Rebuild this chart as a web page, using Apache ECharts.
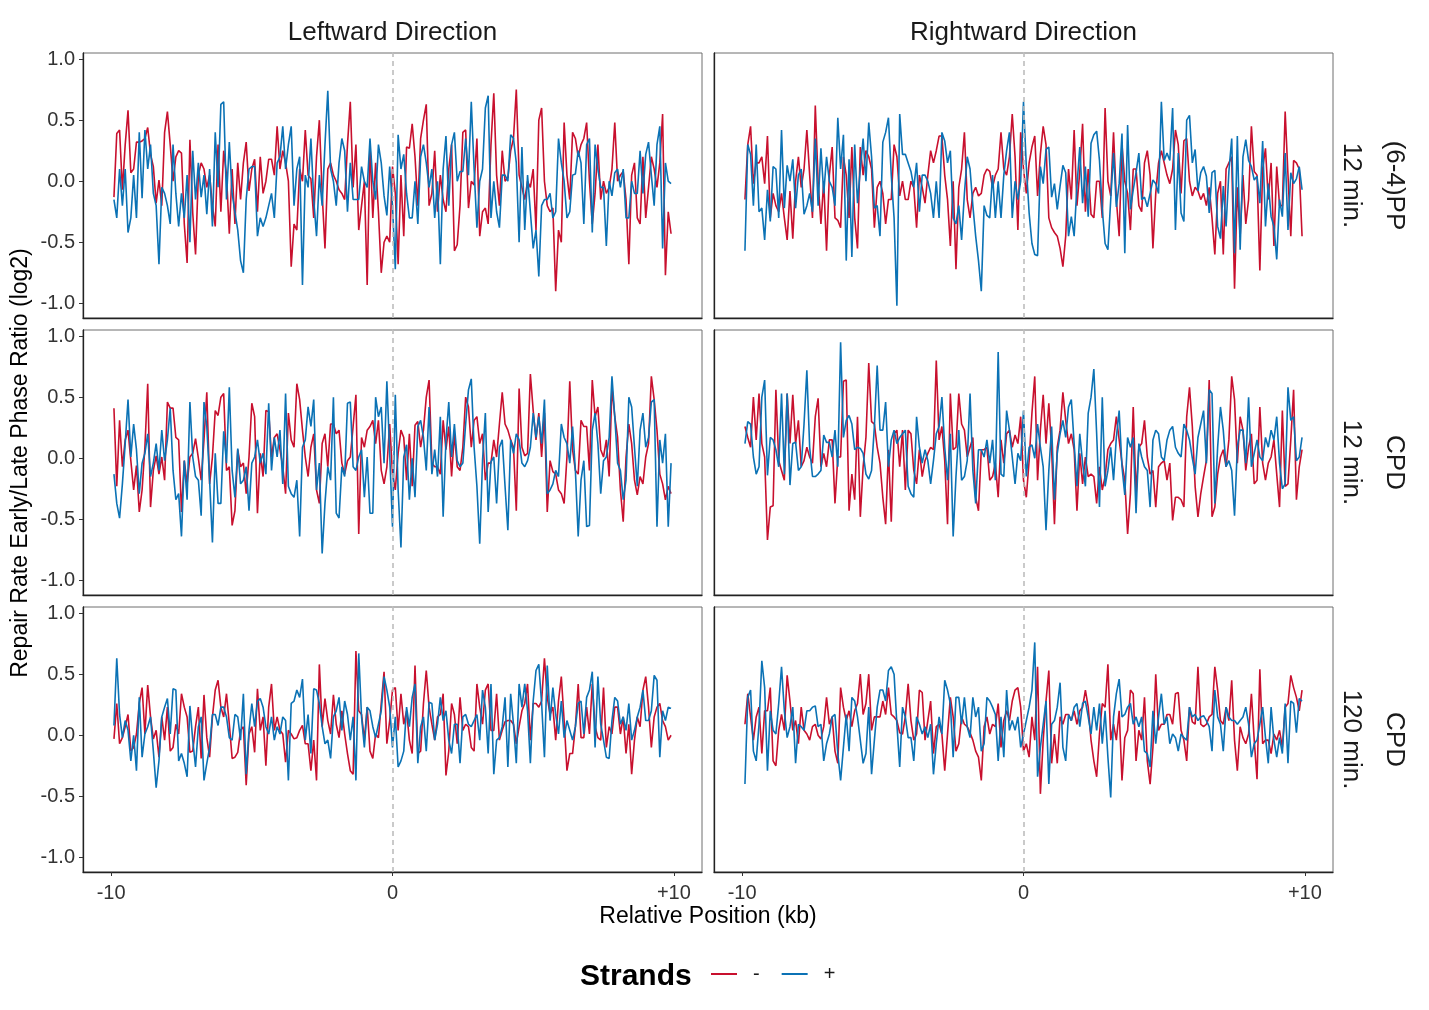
<!DOCTYPE html>
<html>
<head>
<meta charset="utf-8">
<script src="https://cdn.jsdelivr.net/npm/echarts@6/dist/echarts.min.js"></script>
<style>
  html, body { margin: 0; padding: 0; background: #fff; }
  #chart { width: 1429px; height: 1010px; }
</style>
</head>
<body>
<div id="chart"></div>
<script>
// facet labels, ticks, legend
const directions = ['Leftward Direction', 'Rightward Direction'];
const conditions = [['(6-4)PP', '12 min.'], ['CPD', '12 min.'], ['CPD', '120 min.']];
const strands = ['-', '+'];
const yTicks = [-1, -0.5, 0, 0.5, 1];
const xTicks = [-10, 0, 10];

// bin centres in kb (100 bp bins, -9.9 .. +9.9)
const positions = Array.from({ length: 199 }, (_, i) => +(-9.9 + i * 0.1).toFixed(1));

// log2 ratio per bin
const pp12LeftMinus = [
  -0.13, 0.39, 0.42, -0.07, 0.3, 0.58, 0.07, 0.1, 0.32, 0.32,
  0.33, 0.35, 0.44, 0.22, 0.12, -0.18, 0.01, -0.2, 0.4, 0.57,
  0.3, 0.0, 0.2, 0.25, 0.23, -0.35, -0.67, 0.34, -0.26, -0.6,
  0.05, 0.15, 0.1, -0.05, 0.05, -0.2, -0.37, 0.3, -0.25, 0.25,
  0.05, -0.43, 0.1, -0.35, 0.15, -0.15, 0.15, 0.32, -0.08, 0.1,
  0.18, -0.25, 0.2, -0.1, 0.0, 0.18, 0.18, 0.05, 0.45, 0.1,
  0.25, 0.15, 0.0, -0.7, -0.35, -0.4, 0.1, 0.0, 0.42, 0.05,
  0.02, -0.3, 0.2, 0.5, -0.1, -0.55, 0.1, 0.15, 0.05, 0.0,
  -0.07, -0.1, -0.15, 0.3, 0.65, -0.05, 0.3, -0.4, -0.2, 0.0,
  -0.85, 0.3, -0.3, 0.15, -0.25, -0.75, -0.5, -0.45, -0.5, 0.12,
  -0.1, -0.68, 0.05, -0.45, 0.28, 0.27, 0.47, 0.2, -0.2, 0.35,
  0.5, 0.63, -0.2, -0.1, 0.25, -0.25, 0.05, -0.15, -0.25, 0.1,
  0.3, -0.57, -0.52, -0.2, 0.4, 0.42, -0.22, 0.0, -0.03, 0.35,
  -0.45, -0.25, -0.22, -0.35, 0.3, 0.72, 0.05, -0.2, 0.25, 0.0,
  0.03, 0.25, 0.35, 0.75, 0.05, -0.05, -0.15, 0.0, -0.05, 0.1,
  -0.4, 0.5, 0.6, 0.0, -0.2, -0.25, -0.22, -0.9, -0.4, -0.5,
  0.48, 0.05, -0.15, 0.4, 0.35, 0.2, 0.3, 0.35, 0.48, 0.0,
  -0.35, -0.1, 0.3, -0.15, 0.0, -0.1, -0.05, 0.1, 0.48, 0.0,
  0.05, 0.08, -0.15, -0.68, 0.05, 0.15, -0.3, -0.35, 0.2, -0.3,
  -0.05, 0.2, 0.1, -0.05, 0.15, 0.55, -0.77, -0.25, -0.43
];
const pp12LeftPlus = [
  -0.15, -0.3, 0.1, -0.2, 0.1, -0.42, -0.3, 0.05, -0.3, 0.4,
  -0.14, 0.42, 0.1, 0.3, -0.1, -0.2, -0.68, -0.05, -0.1, -0.2,
  -0.35, 0.3, -0.1, -0.37, -0.1, -0.3, 0.05, -0.5, 0.25, -0.15,
  0.15, -0.13, 0.05, -0.27, 0.1, -0.37, 0.4, -0.05, 0.63, 0.65,
  -0.15, 0.32, -0.1, -0.25, -0.4, -0.65, -0.75, -0.15, 0.1, 0.12,
  0.12, -0.45, -0.3, -0.37, -0.3, -0.2, -0.1, -0.3, 0.15, 0.2,
  0.45, 0.1, 0.3, 0.45, -0.2, 0.1, 0.2, -0.85, 0.05, -0.05,
  0.35, -0.15, -0.45, 0.05, -0.2, 0.3, 0.74, 0.1, 0.0, -0.2,
  0.15, 0.35, 0.25, -0.25, 0.15, -0.15, -0.15, -0.15, 0.12, 0.0,
  -0.05, 0.35, 0.0, -0.15, 0.3, 0.15, -0.12, -0.28, 0.12, -0.2,
  -0.72, 0.38, 0.1, 0.22, -0.1, -0.3, -0.3, 0.0, -0.35, 0.2,
  0.3, 0.15, -0.05, 0.1, -0.3, 0.0, -0.68, 0.1, 0.37, -0.2,
  0.3, 0.4, 0.0, 0.08, 0.08, 0.35, 0.05, 0.65, 0.1, -0.38,
  0.0, 0.1, 0.6, 0.7, -0.3, 0.0, -0.25, -0.38, 0.05, 0.05,
  0.0, 0.38, 0.35, 0.15, -0.5, 0.28, -0.4, 0.05, -0.25, -0.55,
  -0.4, -0.78, -0.2, -0.15, -0.15, -0.1, -0.3, -0.25, 0.35, 0.15,
  0.0, -0.3, -0.25, 0.05, 0.06, 0.25, 0.15, -0.35, 0.3, 0.35,
  -0.42, 0.3, 0.1, -0.05, -0.05, -0.53, 0.0, -0.12, 0.07, 0.1,
  -0.05, 0.1, -0.3, -0.3, 0.0, -0.1, -0.1, 0.25, -0.1, 0.22,
  0.32, 0.05, -0.2, 0.3, 0.45, -0.55, 0.15, 0.0, -0.02
];
const pp12RightMinus = [
  -0.15, 0.3, 0.45, -0.02, 0.15, 0.15, 0.2, -0.02, 0.37, -0.3,
  -0.1, -0.2, -0.25, -0.1, -0.3, -0.48, -0.08, -0.47, 0.0, 0.2,
  -0.05, 0.1, 0.42, 0.05, -0.3, 0.62, 0.0, -0.35, 0.0, -0.57,
  0.05, 0.28, -0.3, -0.32, -0.38, 0.2, 0.05, -0.3, 0.28, -0.3,
  -0.55, 0.28, 0.05, 0.25, 0.2, 0.1, -0.38, -0.05, 0.0, -0.1,
  -0.35, -0.15, -0.15, 0.3, 0.2, -0.12, 0.0, -0.15, -0.15, 0.0,
  -0.05, -0.38, 0.05, -0.05, -0.18, 0.05, 0.25, 0.15, 0.25, 0.37,
  0.37, 0.05, -0.15, -0.53, 0.0, -0.72, -0.05, 0.1, 0.4, -0.15,
  -0.3, -0.1, -0.05, -0.12, -0.1, 0.05, 0.1, 0.08, -0.05, 0.05,
  0.1, 0.4, 0.1, 0.05, 0.2, 0.55, 0.2, -0.4, 0.4, 0.1,
  -0.1, 0.15, 0.28, 0.37, -0.12, 0.22, 0.45, 0.3, -0.3, -0.38,
  -0.42, -0.45, -0.55, -0.7, -0.45, 0.1, -0.15, 0.42, -0.2, 0.08,
  0.47, -0.25, 0.1, -0.27, -0.3, 0.0, 0.0, -0.3, 0.6, 0.0,
  -0.12, 0.4, -0.15, -0.45, 0.3, 0.0, -0.1, -0.4, 0.1, 0.1,
  -0.2, -0.25, 0.15, 0.25, 0.05, -0.55, -0.1, 0.15, 0.25, 0.15,
  0.05, -0.02, 0.1, 0.42, 0.3, -0.1, 0.33, 0.35, 0.0, -0.12,
  -0.05, -0.08, -0.15, -0.1, -0.2, -0.05, -0.3, -0.6, -0.1, 0.0,
  -0.6, 0.1, 0.15, 0.2, -0.88, -0.05, -0.45, 0.05, -0.35, -0.15,
  0.45, 0.08, 0.05, -0.73, 0.1, 0.27, -0.15, 0.15, -0.53, 0.12,
  -0.2, -0.2, 0.57, 0.05, -0.45, 0.17, 0.15, 0.1, -0.45
];
const pp12RightPlus = [
  -0.57, 0.3, 0.22, -0.2, 0.3, -0.25, -0.22, -0.48, -0.07, -0.33,
  0.12, 0.1, -0.3, 0.42, -0.22, 0.13, 0.0, 0.18, -0.22, 0.05,
  0.1, -0.27, -0.2, -0.1, -0.25, 0.35, -0.2, 0.27, -0.1, 0.2,
  0.0, -0.05, -0.2, 0.52, 0.1, 0.38, -0.65, 0.18, -0.62, 0.3,
  -0.18, 0.1, 0.35, 0.0, 0.48, 0.2, -0.22, -0.2, -0.45, 0.32,
  0.4, 0.52, 0.05, -0.3, -1.02, 0.55, 0.22, 0.22, 0.15, 0.08,
  -0.05, 0.15, -0.25, 0.05, 0.05, 0.0, -0.1, -0.3, 0.0, -0.3,
  0.4, 0.33, 0.15, 0.25, -0.3, -0.35, -0.2, -0.48, -0.1, 0.2,
  0.1, -0.2, -0.45, -0.65, -0.9, -0.2, -0.28, -0.3, 0.05, -0.3,
  0.0, -0.3, 0.05, 0.25, 0.4, -0.3, 0.0, -0.15, 0.0, 0.65,
  0.12, -0.26, -0.51, -0.6, -0.61, 0.12, -0.02, 0.26, 0.28, -0.13,
  -0.02, -0.23, -0.04, 0.13, 0.07, -0.45, -0.29, -0.45, -0.04, 0.28,
  -0.18, 0.12, -0.29, 0.31, 0.38, 0.41, 0.17, -0.23, -0.51, -0.56,
  -0.15, 0.23, -0.21, -0.02, 0.39, -0.59, 0.46, -0.23, -0.07, 0.07,
  0.23, -0.15, -0.13, -0.21, -0.1, 0.01, -0.02, -0.1, 0.65, 0.17,
  0.23, 0.17, 0.6, -0.4, 0.23, -0.26, -0.33, 0.5, 0.54, 0.15,
  0.26, -0.08, 0.07, 0.12, 0.04, -0.26, 0.07, 0.09, -0.37, -0.47,
  -0.04, -0.37, 0.08, 0.35, -0.59, 0.37, -0.56, 0.2, 0.34, 0.17,
  0.12, 0.01, 0.04, -0.18, 0.33, -0.37, -0.02, -0.29, -0.37, -0.64,
  -0.15, -0.29, 0.23, -0.4, 0.07, -0.02, 0.02, 0.12, -0.07
];
const cpd12LeftMinus = [
  0.41, -0.23, 0.31, -0.07, 0.15, 0.23, -0.02, -0.26, -0.06, -0.44,
  -0.26, 0.09, 0.61, -0.4, -0.1, 0.02, -0.13, 0.01, -0.18, 0.46,
  0.41, 0.41, 0.17, 0.15, -0.44, -0.02, -0.21, 0.01, 0.04, 0.16,
  0.0, -0.18, 0.15, 0.54, -0.21, 0.01, 0.39, 0.35, 0.5, 0.53,
  -0.1, -0.07, -0.55, -0.43, 0.07, -0.07, -0.04, -0.29, 0.01, 0.45,
  0.34, -0.45, 0.04, -0.15, 0.39, 0.38, 0.01, 0.17, 0.2, 0.07,
  -0.07, -0.29, 0.37, 0.15, 0.09, 0.61, 0.48, 0.23, 0.01, -0.15,
  0.09, 0.2, -0.26, -0.37, 0.12, 0.2, -0.07, 0.28, 0.28, 0.2,
  0.23, -0.04, -0.13, -0.02, 0.01, 0.26, 0.52, -0.62, 0.17, 0.09,
  0.23, 0.26, 0.31, 0.12, 0.31, -0.1, -0.21, -0.07, 0.28, -0.13,
  -0.26, 0.04, 0.23, 0.17, -0.18, 0.2, -0.23, 0.27, 0.3, 0.09,
  0.23, 0.5, 0.64, -0.04, -0.07, -0.07, -0.13, 0.31, 0.07, 0.26,
  -0.15, 0.2, -0.07, -0.1, 0.09, 0.5, 0.42, 0.09, 0.31, 0.34,
  0.12, 0.2, -0.18, -0.04, -0.04, 0.15, 0.01, 0.28, 0.54, 0.28,
  0.23, 0.15, 0.09, -0.43, 0.57, 0.09, 0.02, 0.04, 0.69, 0.39,
  0.15, 0.37, 0.01, 0.37, -0.44, -0.02, -0.11, -0.13, -0.26, -0.29,
  -0.37, 0.01, 0.63, 0.07, -0.1, -0.13, 0.31, 0.26, 0.26, -0.1,
  0.64, 0.34, 0.42, 0.07, 0.01, 0.15, -0.15, 0.58, 0.34, 0.17,
  -0.26, -0.52, 0.01, 0.28, 0.12, -0.18, -0.3, -0.15, -0.21, 0.01,
  0.12, 0.67, 0.48, 0.23, -0.13, -0.21, -0.34, -0.23, -0.29
];
const cpd12LeftPlus = [
  -0.13, -0.37, -0.49, -0.21, 0.12, 0.48, 0.01, 0.28, 0.07, -0.29,
  -0.04, 0.04, 0.2, -0.15, -0.04, 0.12, -0.1, 0.23, -0.02, 0.15,
  0.41, -0.1, -0.34, -0.29, -0.64, -0.02, -0.34, 0.46, 0.01, -0.15,
  -0.18, -0.47, 0.46, 0.26, -0.18, -0.69, 0.04, -0.37, -0.37, 0.22,
  -0.04, 0.58, -0.1, -0.32, 0.08, -0.21, -0.18, -0.07, -0.43, -0.04,
  0.01, 0.15, -0.04, 0.04, -0.13, 0.45, -0.1, 0.17, 0.01, 0.23,
  -0.21, 0.53, -0.23, -0.29, -0.32, -0.18, -0.64, 0.09, 0.15, 0.42,
  0.26, 0.48, -0.26, -0.04, -0.78, -0.37, -0.07, -0.18, 0.5, -0.45,
  -0.49, -0.07, -0.15, 0.45, 0.46, -0.07, -0.1, 0.01, 0.07, -0.32,
  0.01, -0.45, -0.45, 0.5, 0.34, 0.42, -0.04, 0.63, 0.04, -0.56,
  0.52, -0.26, -0.73, 0.01, 0.11, -0.34, 0.0, -0.32, 0.26, 0.31,
  0.17, -0.1, 0.42, -0.13, 0.07, -0.15, 0.34, -0.48, 0.15, 0.46,
  0.01, 0.28, -0.02, -0.07, -0.04, 0.28, 0.56, 0.65, 0.09, -0.23,
  -0.7, -0.02, 0.37, -0.44, -0.03, 0.01, -0.37, 0.09, 0.15, -0.23,
  -0.59, 0.15, 0.04, 0.2, 0.15, -0.04, -0.07, -0.02, 0.09, 0.37,
  0.17, 0.34, 0.12, 0.48, -0.29, -0.26, -0.21, -0.1, -0.15, 0.28,
  0.17, 0.12, -0.04, 0.26, -0.1, -0.64, -0.18, -0.02, -0.56, -0.55,
  0.23, 0.37, 0.12, -0.29, -0.02, 0.01, 0.17, 0.67, 0.34, -0.04,
  -0.1, -0.34, -0.18, 0.5, 0.42, 0.09, -0.23, 0.23, 0.37, 0.09,
  0.17, 0.46, 0.48, -0.56, 0.15, -0.04, 0.2, -0.56, -0.04
];
const cpd12RightMinus = [
  0.26, 0.17, 0.09, 0.5, 0.15, 0.53, 0.12, 0.01, -0.67, -0.4,
  -0.39, 0.56, -0.02, -0.1, -0.18, 0.53, 0.12, 0.52, 0.12, 0.31,
  -0.07, -0.02, 0.09, 0.01, -0.04, 0.34, 0.49, -0.07, 0.04, -0.07,
  0.15, 0.15, -0.37, 0.01, 0.01, 0.63, 0.64, -0.43, -0.13, -0.34,
  0.34, -0.48, -0.07, 0.17, 0.78, 0.3, 0.28, 0.09, -0.04, -0.32,
  -0.54, 0.07, -0.52, 0.2, 0.23, -0.07, 0.23, -0.26, 0.23, 0.2,
  -0.1, -0.21, 0.07, -0.15, -0.02, 0.04, 0.09, 0.07, 0.8, 0.15,
  0.26, -0.02, -0.54, 0.53, 0.07, 0.09, 0.53, 0.28, 0.23, 0.01,
  0.09, 0.17, -0.32, -0.43, 0.07, 0.07, 0.09, -0.18, -0.15, -0.04,
  -0.32, 0.15, -0.04, 0.2, 0.23, 0.09, 0.19, 0.12, 0.34, -0.18,
  -0.32, -0.02, 0.37, 0.67, -0.18, 0.23, 0.52, 0.12, 0.45, 0.07,
  -0.54, 0.09, 0.23, 0.54, 0.31, 0.12, 0.2, 0.07, -0.43, 0.04,
  -0.21, 0.01, -0.15, -0.13, -0.15, -0.37, -0.07, -0.26, -0.15, 0.07,
  0.12, 0.15, 0.34, 0.15, -0.04, -0.18, -0.62, -0.29, 0.42, -0.29,
  0.09, 0.12, 0.31, 0.01, -0.13, -0.1, -0.4, -0.07, -0.04, -0.02,
  -0.18, -0.04, -0.51, -0.32, -0.32, -0.34, -0.4, 0.34, 0.58, 0.26,
  -0.23, -0.48, -0.29, -0.15, -0.02, 0.64, -0.48, -0.4, -0.13, 0.01,
  0.07, -0.07, 0.15, 0.67, 0.48, -0.04, 0.34, 0.23, -0.1, 0.09,
  0.2, -0.21, -0.18, 0.42, -0.04, -0.18, -0.04, 0.01, 0.15, -0.13,
  -0.4, 0.39, -0.23, -0.21, 0.15, 0.56, -0.34, -0.07, 0.07
];
const cpd12RightPlus = [
  0.12, 0.3, 0.28, 0.01, -0.13, -0.07, 0.5, 0.64, -0.14, 0.17,
  0.15, 0.07, -0.07, 0.53, -0.13, 0.53, -0.22, 0.12, 0.13, -0.1,
  -0.07, 0.28, 0.72, 0.09, -0.15, -0.15, -0.13, -0.1, 0.19, 0.13,
  0.13, 0.01, 0.23, -0.07, 0.95, 0.17, 0.31, 0.35, 0.28, 0.07,
  0.09, 0.08, 0.04, -0.13, -0.17, -0.1, 0.26, 0.76, 0.23, 0.23,
  0.46, -0.07, 0.15, 0.23, 0.12, 0.17, 0.2, 0.23, -0.23, -0.29,
  -0.32, 0.34, 0.09, -0.04, 0.07, -0.02, -0.21, -0.02, 0.2, 0.26,
  0.5, 0.09, -0.18, 0.2, -0.64, -0.15, 0.23, -0.18, -0.15, -0.02,
  0.53, -0.1, -0.37, 0.07, 0.07, 0.01, 0.15, -0.04, 0.15, -0.18,
  0.87, -0.13, -0.15, 0.39, 0.23, 0.01, -0.21, 0.04, -0.02, 0.39,
  -0.15, 0.09, 0.11, 0.0, 0.28, 0.09, -0.07, -0.59, -0.1, 0.26,
  -0.34, 0.04, 0.2, 0.31, 0.17, 0.42, 0.48, 0.12, -0.23, 0.2,
  -0.04, -0.23, 0.37, 0.5, 0.73, 0.2, -0.4, 0.5, -0.23, -0.1,
  0.09, -0.18, 0.17, 0.39, -0.07, -0.3, 0.17, 0.09, 0.17, -0.45,
  0.12, 0.01, -0.07, -0.1, -0.4, 0.15, 0.23, 0.2, 0.01, -0.02,
  0.15, 0.23, 0.26, 0.09, 0.04, 0.01, 0.28, 0.23, 0.15, 0.0,
  -0.13, 0.17, 0.28, 0.39, -0.04, 0.56, 0.53, -0.37, 0.09, 0.42,
  0.23, -0.07, -0.02, -0.1, -0.47, 0.09, 0.23, 0.23, -0.04, 0.5,
  -0.07, 0.04, 0.15, 0.01, -0.02, 0.17, 0.09, 0.23, 0.15, 0.34,
  -0.04, -0.25, -0.21, 0.58, 0.31, 0.34, -0.02, 0.01, 0.17
];
const cpd120LeftMinus = [
  -0.03, 0.26, -0.07, -0.02, 0.07, 0.17, -0.13, -0.1, 0.01, 0.26,
  0.39, 0.01, 0.41, 0.15, -0.03, 0.04, -0.18, 0.15, -0.04, 0.23,
  -0.13, -0.1, 0.09, 0.01, 0.34, 0.23, 0.15, -0.14, -0.13, 0.07,
  0.23, -0.19, 0.33, -0.02, -0.18, 0.15, 0.37, 0.45, 0.23, 0.15,
  0.34, 0.09, -0.19, -0.18, -0.14, 0.04, 0.07, -0.41, 0.01, 0.07,
  -0.14, 0.38, 0.04, 0.15, -0.25, 0.23, 0.42, 0.04, 0.15, 0.04,
  0.01, -0.22, 0.04, 0.01, -0.03, -0.02, 0.04, 0.08, -0.07, -0.07,
  -0.29, -0.04, -0.37, 0.58, 0.07, 0.3, 0.12, 0.01, 0.33, 0.09,
  -0.02, 0.2, 0.01, -0.15, -0.29, -0.32, 0.69, 0.2, 0.17, -0.04,
  0.23, -0.13, -0.19, 0.01, -0.02, 0.26, 0.52, -0.07, 0.12, 0.37,
  0.39, 0.04, 0.34, 0.09, 0.2, -0.04, -0.15, 0.57, -0.15, -0.13,
  0.26, 0.53, 0.23, 0.09, -0.04, 0.15, 0.17, 0.34, -0.33, -0.13,
  0.26, 0.17, -0.07, 0.31, 0.04, 0.09, 0.07, -0.1, -0.13, 0.42,
  0.23, 0.09, 0.37, 0.42, 0.04, 0.04, 0.34, -0.04, 0.04, 0.11,
  0.12, 0.12, 0.09, -0.07, 0.07, 0.2, 0.26, 0.42, -0.04, 0.26,
  0.26, 0.23, 0.28, 0.63, 0.31, 0.17, 0.23, -0.04, 0.28, 0.48,
  0.12, -0.29, -0.15, -0.15, 0.07, 0.42, -0.02, -0.02, 0.23, 0.01,
  0.42, 0.07, -0.02, -0.04, 0.39, -0.1, 0.07, 0.01, 0.23, 0.23,
  0.01, 0.15, -0.15, 0.09, -0.32, -0.04, 0.15, 0.07, 0.37, 0.48,
  0.23, -0.1, 0.15, 0.23, 0.26, 0.12, 0.07, -0.04, 0.0
];
const cpd120LeftPlus = [
  0.08, 0.63, 0.17, -0.02, 0.12, 0.04, -0.21, 0.0, -0.29, 0.31,
  -0.18, 0.01, 0.07, 0.15, -0.13, -0.43, -0.21, 0.15, 0.23, 0.3,
  0.01, 0.38, 0.37, -0.21, -0.15, -0.23, -0.34, 0.24, -0.04, -0.26,
  0.07, 0.15, -0.37, -0.23, -0.1, 0.17, 0.17, 0.08, 0.23, 0.23,
  0.15, -0.02, -0.04, 0.17, 0.15, -0.04, 0.34, -0.32, 0.04, 0.26,
  0.07, 0.28, 0.3, 0.23, 0.07, 0.01, 0.15, -0.04, 0.07, 0.01,
  0.15, 0.12, -0.37, 0.26, 0.28, 0.37, 0.31, 0.46, -0.04, 0.17,
  -0.15, 0.38, 0.37, 0.26, 0.07, -0.07, -0.04, -0.19, 0.15, 0.2,
  0.31, 0.04, 0.28, 0.17, -0.04, 0.15, -0.37, 0.67, 0.15, -0.1,
  0.23, 0.2, 0.07, -0.02, 0.09, 0.2, 0.48, 0.37, 0.23, -0.1,
  0.15, -0.26, -0.21, -0.13, 0.23, 0.07, 0.31, 0.42, -0.23, 0.07,
  0.15, -0.13, 0.27, 0.26, -0.04, 0.09, 0.31, 0.12, 0.2, -0.04,
  -0.15, 0.09, 0.09, -0.23, 0.15, 0.17, 0.09, 0.07, 0.12, 0.17,
  -0.04, 0.37, 0.23, -0.15, 0.42, -0.32, -0.04, -0.02, 0.07, 0.31,
  -0.26, 0.34, 0.09, -0.23, 0.42, 0.23, 0.42, 0.2, -0.23, 0.28,
  0.53, 0.58, 0.26, -0.18, 0.57, 0.12, 0.39, 0.17, 0.01, 0.28,
  -0.02, 0.12, 0.04, -0.04, 0.07, 0.26, 0.28, 0.01, 0.31, 0.37,
  0.52, -0.1, 0.48, 0.09, -0.04, -0.18, -0.19, 0.12, 0.31, 0.28,
  0.09, 0.15, 0.04, 0.26, -0.04, 0.04, 0.15, 0.23, 0.37, 0.12,
  0.12, 0.2, 0.49, 0.45, -0.18, 0.2, 0.12, 0.23, 0.22
];
const cpd120RightMinus = [
  0.09, 0.34, 0.15, -0.04, 0.15, 0.23, -0.15, 0.2, 0.2, 0.39,
  -0.21, -0.25, 0.04, 0.17, 0.04, 0.49, 0.28, 0.04, 0.12, -0.07,
  0.23, 0.04, 0.01, -0.04, 0.07, 0.09, 0.0, -0.03, 0.07, 0.31,
  0.09, 0.15, -0.13, -0.23, 0.39, 0.23, 0.12, 0.2, 0.07, 0.2,
  0.26, 0.5, 0.17, 0.26, 0.5, 0.04, 0.15, 0.15, 0.15, 0.28,
  0.17, 0.39, 0.17, 0.15, 0.12, 0.02, 0.01, 0.15, 0.42, 0.12,
  -0.04, 0.01, 0.37, 0.35, -0.04, 0.12, 0.28, -0.15, 0.07, 0.09,
  0.01, -0.29, 0.01, 0.31, 0.15, -0.13, -0.07, 0.15, 0.09, 0.07,
  0.02, -0.04, -0.13, -0.18, -0.37, 0.07, 0.15, 0.01, 0.09, 0.07,
  0.26, -0.1, 0.12, 0.2, 0.12, 0.28, 0.37, 0.39, 0.23, -0.13,
  -0.07, -0.18, 0.15, -0.04, 0.56, -0.48, -0.04, 0.28, 0.53, -0.23,
  0.01, -0.23, 0.15, 0.09, 0.17, 0.17, 0.12, 0.2, 0.09, 0.2,
  0.23, 0.37, 0.23, -0.04, -0.21, -0.34, 0.01, 0.26, 0.23, 0.58,
  -0.04, 0.09, -0.04, 0.2, -0.37, -0.02, 0.04, 0.37, 0.34, -0.21,
  0.04, -0.04, 0.31, -0.21, -0.4, -0.1, 0.5, 0.04, 0.09, 0.09,
  0.17, 0.17, 0.09, 0.34, 0.35, 0.04, -0.04, -0.21, 0.23, 0.11,
  0.09, 0.56, 0.09, 0.07, 0.09, 0.15, 0.17, 0.56, 0.37, 0.12,
  0.09, 0.23, 0.12, 0.45, -0.04, -0.29, 0.07, -0.02, -0.07, 0.01,
  0.34, -0.04, -0.36, 0.54, -0.07, -0.04, -0.04, -0.15, 0.01, -0.04,
  0.04, -0.1, 0.23, 0.26, 0.49, 0.39, 0.31, 0.2, 0.37
];
const cpd120RightPlus = [
  -0.4, 0.31, 0.37, -0.13, -0.21, 0.09, 0.61, 0.39, -0.29, 0.2,
  0.04, 0.01, 0.26, 0.56, 0.2, -0.02, 0.07, 0.23, -0.23, 0.09,
  0.07, 0.04, 0.2, 0.2, 0.23, 0.24, 0.07, 0.09, -0.21, -0.07,
  0.01, 0.15, 0.17, -0.15, -0.37, -0.1, 0.17, -0.13, 0.31, 0.28,
  0.15, -0.04, -0.23, -0.15, 0.23, -0.32, -0.04, 0.23, 0.37, 0.37,
  0.28, 0.53, 0.56, 0.5, 0.09, -0.26, 0.23, 0.15, -0.02, -0.02,
  -0.21, 0.15, 0.09, 0.01, 0.07, -0.02, 0.09, -0.32, -0.07, 0.15,
  0.01, 0.45, 0.37, 0.26, -0.18, 0.31, 0.31, 0.09, 0.31, 0.07,
  -0.02, 0.31, 0.15, 0.23, -0.13, -0.07, 0.31, 0.28, 0.23, 0.17,
  -0.21, 0.15, -0.18, 0.37, 0.04, 0.12, 0.04, 0.15, -0.1, 0.01,
  0.12, 0.23, 0.37, 0.76, -0.34, -0.1, 0.09, 0.28, -0.4, 0.09,
  0.12, 0.23, 0.43, -0.1, -0.21, 0.17, 0.12, 0.23, 0.26, 0.07,
  0.26, 0.28, 0.15, 0.01, 0.23, 0.04, 0.26, -0.07, 0.2, -0.18,
  -0.51, 0.15, 0.34, 0.46, 0.15, 0.17, 0.23, 0.26, 0.09, 0.15,
  0.07, 0.15, -0.13, -0.15, -0.26, 0.2, -0.07, 0.15, 0.34, 0.09,
  0.15, -0.07, 0.01, -0.02, -0.13, 0.01, -0.02, -0.04, 0.23, 0.15,
  0.17, 0.12, 0.15, 0.16, 0.12, 0.07, -0.13, 0.37, 0.15, 0.09,
  -0.13, 0.23, 0.15, 0.12, 0.12, 0.09, 0.12, 0.15, 0.23, 0.09,
  -0.18, -0.07, -0.04, 0.09, 0.23, -0.02, -0.23, 0.23, -0.04, -0.18,
  -0.02, -0.15, 0.26, -0.23, 0.28, 0.26, 0.02, 0.3, 0.28
];

// panel order: rows = condition, cols = direction
const panelData = [
  [pp12LeftMinus, pp12LeftPlus], [pp12RightMinus, pp12RightPlus],
  [cpd12LeftMinus, cpd12LeftPlus], [cpd12RightMinus, cpd12RightPlus],
  [cpd120LeftMinus, cpd120LeftPlus], [cpd120RightMinus, cpd120RightPlus]
];

const FONT = '"Liberation Sans", Arial, Helvetica, sans-serif';
const RED = '#C8102E';
const BLUE = '#0B72B5';
const colLeft = [83, 714];
const rowTop = [53, 330, 607];
const panelW = 619;
const panelH = 265;

const grids = [], xAxes = [], yAxes = [], series = [];

panelData.forEach(function (pair, i) {
  const row = Math.floor(i / 2);
  const col = i % 2;
  grids.push({
    left: colLeft[col], top: rowTop[row], width: panelW, height: panelH,
    show: true, borderColor: '#6e6e6e', borderWidth: 1, backgroundColor: 'transparent'
  });
  xAxes.push({
    type: 'value', gridIndex: i, min: -11, max: 11,
    axisLine: { show: true, onZero: false, lineStyle: { color: '#222', width: 1.3 } },
    axisTick: { show: row === 2, customValues: xTicks, length: 4, lineStyle: { color: '#333', width: 1 } },
    axisLabel: {
      show: row === 2, customValues: xTicks, margin: 11,
      fontSize: 20, fontFamily: FONT, color: '#333',
      formatter: function (v) { return v > 0 ? '+' + v : String(v); }
    },
    splitLine: { show: false }
  });
  yAxes.push({
    type: 'value', gridIndex: i, min: -1.12, max: 1.05,
    axisLine: { show: true, onZero: false, lineStyle: { color: '#222', width: 1.3 } },
    axisTick: { show: col === 0, customValues: yTicks, length: 4, lineStyle: { color: '#333', width: 1 } },
    axisLabel: {
      show: col === 0, customValues: yTicks, margin: 8,
      fontSize: 20, fontFamily: FONT, color: '#333',
      formatter: function (v) { return v.toFixed(1); }
    },
    splitLine: { show: false }
  });
  pair.forEach(function (vals, s) {
    const item = {
      name: strands[s], type: 'line', xAxisIndex: i, yAxisIndex: i,
      data: positions.map(function (x, k) { return [x, vals[k]]; }),
      symbol: 'none', silent: true, z: 3 + s,
      color: s === 0 ? RED : BLUE,
      lineStyle: { width: 1.6, color: s === 0 ? RED : BLUE }
    };
    // dashed reference line at the origin
    if (s === 0) {
      item.markLine = {
        silent: true, symbol: ['none', 'none'], label: { show: false },
        lineStyle: { color: '#bdbdbd', type: [5, 4], width: 1.6 },
        data: [{ xAxis: 0 }]
      };
    }
    series.push(item);
  });
});

const graphic = [];
directions.forEach(function (d, c) {
  graphic.push({
    type: 'text', x: colLeft[c] + panelW / 2, y: 33,
    style: { text: d, fontSize: 26, fontFamily: FONT, fill: '#1a1a1a', align: 'center', verticalAlign: 'middle' }
  });
});
conditions.forEach(function (c, r) {
  graphic.push({
    type: 'text', x: 1373, y: rowTop[r] + panelH / 2, rotation: -Math.PI / 2,
    style: { text: c.join('\n'), fontSize: 26, lineHeight: 43, fontFamily: FONT, fill: '#1a1a1a', align: 'center', verticalAlign: 'middle' }
  });
});
graphic.push({
  type: 'text', x: 21, y: 463, rotation: Math.PI / 2,
  style: { text: 'Repair Rate Early/Late Phase Ratio (log2)', fontSize: 23, fontFamily: FONT, fill: '#000', align: 'center', verticalAlign: 'middle' }
});
graphic.push({
  type: 'text', x: 708, y: 917,
  style: { text: 'Relative Position (kb)', fontSize: 23, fontFamily: FONT, fill: '#000', align: 'center', verticalAlign: 'middle' }
});
graphic.push({
  type: 'text', x: 580, y: 977,
  style: { text: 'Strands', fontSize: 30, fontWeight: 'bold', fontFamily: FONT, fill: '#000', align: 'left', verticalAlign: 'middle' }
});

const chart = echarts.init(document.getElementById('chart'), null, { renderer: 'canvas' });
chart.setOption({
  animation: false,
  backgroundColor: '#fff',
  grid: grids,
  xAxis: xAxes,
  yAxis: yAxes,
  series: series,
  graphic: graphic,
  legend: {
    data: strands, left: 711, top: 964, orient: 'horizontal', padding: 0,
    icon: 'rect', itemWidth: 26, itemHeight: 2, itemGap: 22, selectedMode: false,
    textStyle: { fontSize: 20, fontFamily: FONT, color: '#1a1a1a', padding: [0, 8, 0, 11] }
  }
});
</script>
</body>
</html>
